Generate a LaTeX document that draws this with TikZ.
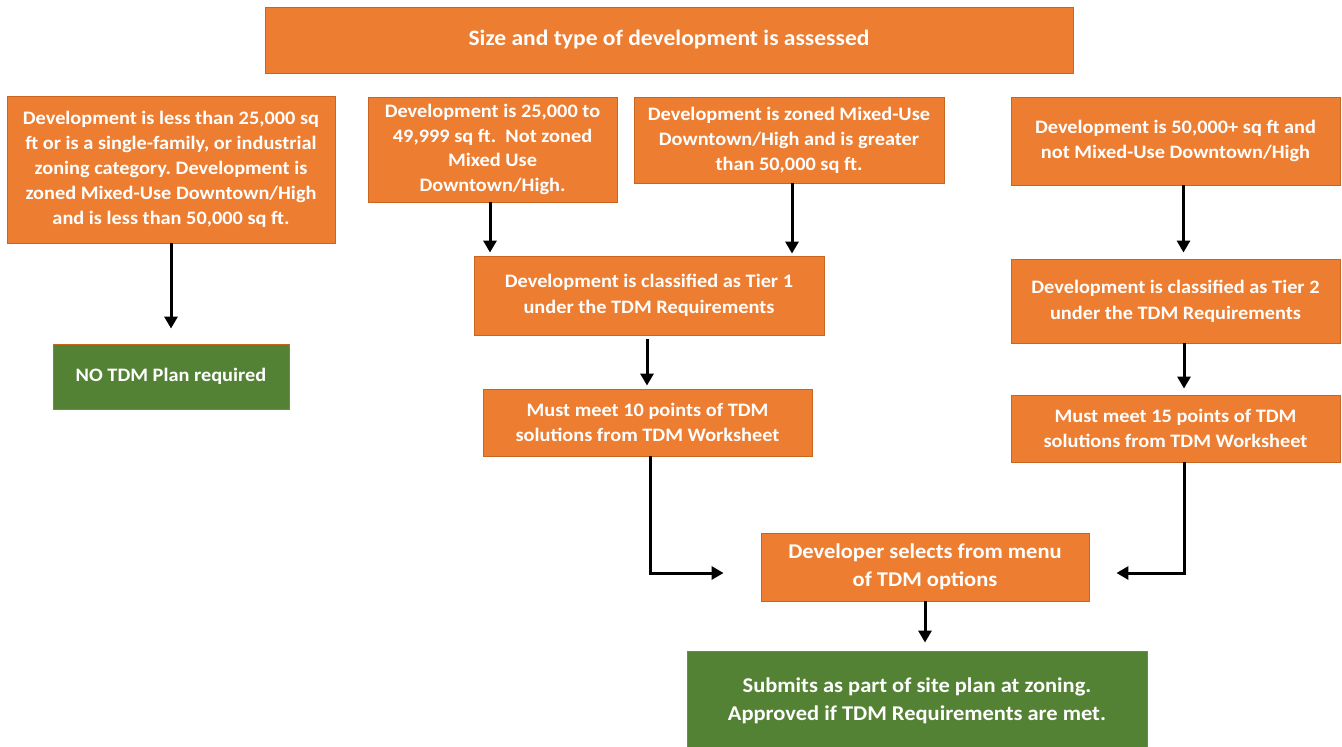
\documentclass[tikz,border=0pt]{standalone}
\usepackage{fontspec}
\setmainfont{Carlito}[FakeStretch=1.07]
\usepackage{xcolor}
\usepackage{tikz}
\usetikzlibrary{arrows.meta}
\frenchspacing

\definecolor{orfill}{HTML}{ED7D31}
\definecolor{oredge}{HTML}{C8661F}
\definecolor{grfill}{HTML}{548235}

\tikzset{
	box/.style={draw=oredge,fill=orfill,text=white,line width=0.9pt,align=center,inner sep=0pt,
		font=\bfseries\fontsize{19}{25}\selectfont},
	gbox/.style={box,fill=grfill},
	bigtext/.style={font=\bfseries\fontsize{21}{27.5}\selectfont},
	arr/.style={-{Triangle[width=13pt,length=12pt]},line width=3pt,black}
}

\begin{document}
\begin{tikzpicture}[x=1pt,y=-1pt]
		\useasboundingbox (0,0) rectangle (1342,747);
		\node [box,minimum width=808,minimum height=66,font=\bfseries\fontsize{22}{26}\selectfont] (size) at (669,40)
			{Size and type of development is assessed};
		\node [box,minimum width=328,minimum height=147] (small) at (171,169.5)
			{Development is less than 25,000 sq\\ft or is a single-family, or industrial\\zoning category. Development is\\zoned Mixed-Use Downtown/High\\and is less than 50,000 sq ft.};
		\node [box,minimum width=249,minimum height=105,font=\bfseries\fontsize{19}{24.5}\selectfont] (mid) at (492.5,149.5)
			{Development is 25,000 to\\49,999 sq ft.\ \ Not zoned\\Mixed Use\\Downtown/High.};
		\node [box,minimum width=310,minimum height=86] (mixed) at (789,140)
			{Development is zoned Mixed-Use\\Downtown/High and is greater\\than 50,000 sq ft.};
		\node [box,minimum width=329,minimum height=88] (large) at (1175.5,141)
			{Development is 50,000+ sq ft and\\not Mixed-Use Downtown/High};
		\node [gbox,minimum width=236,minimum height=65] (none) at (171,376.5)
			{NO TDM Plan required};
		\node [box,minimum width=350,minimum height=79,font=\bfseries\fontsize{19}{26}\selectfont] (tier1) at (649,295.5)
			{Development is classified as Tier 1\\under the TDM Requirements};
		\node [box,minimum width=329,minimum height=84,font=\bfseries\fontsize{19}{26}\selectfont] (tier2) at (1175.5,301)
			{Development is classified as Tier 2\\under the TDM Requirements};
		\node [box,minimum width=329,minimum height=67] (pts10) at (647.5,422.5)
			{Must meet 10 points of TDM\\solutions from TDM Worksheet};
		\node [box,minimum width=329,minimum height=67] (pts15) at (1175.5,428.5)
			{Must meet 15 points of TDM\\solutions from TDM Worksheet};
		\node [box,bigtext,minimum width=328,minimum height=68] (menu) at (925,567)
			{Developer selects from menu\\of TDM options};
		\node [gbox,bigtext,minimum width=460,minimum height=100] (submit) at (917,701)
			{Submits as part of site plan at zoning.\\Approved if TDM Requirements are met.};
		\draw [arr,shorten >=15pt] (small.south) -- (none.north);
		\draw [arr,shorten >=3pt] ([xshift=-2.5]mid.south) -- ([xshift=-159]tier1.north);
		\draw [arr,shorten >=2pt] ([xshift=3]mixed.south) -- ([xshift=143]tier1.north);
		\draw [arr,shorten >=6pt] ([xshift=8]large.south) -- ([xshift=8]tier2.north);
		\draw [arr,shorten <=4pt,shorten >=3pt] ([xshift=-2]tier1.south) -- ([xshift=-0.5]pts10.north);
		\draw [arr,shorten >=6pt] ([xshift=8.5]tier2.south) -- ([xshift=8.5]pts15.north);
		\draw [arr,shorten >=37pt] ([xshift=2.5]pts10.south) |- ([yshift=-6]menu.west);
		\draw [arr,shorten >=27pt] ([xshift=8.5]pts15.south) |- ([yshift=-6]menu.east);
		\draw [arr,shorten >=8pt] (menu.south) -- ([xshift=8]submit.north);
	\end{tikzpicture}
\end{document}
